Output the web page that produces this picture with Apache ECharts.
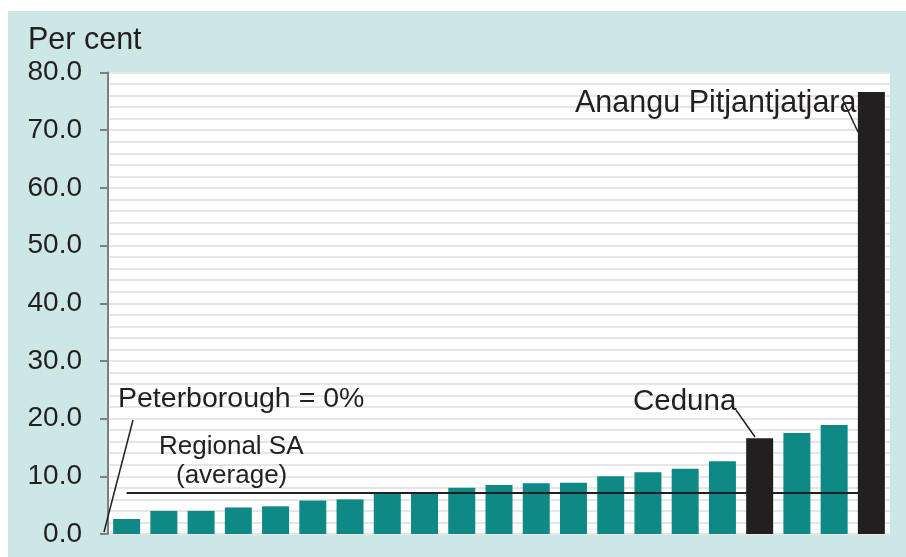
<!DOCTYPE html>
<html>
<head>
<meta charset="utf-8">
<script src="https://cdn.jsdelivr.net/npm/echarts@6/dist/echarts.min.js"></script>
<style>
  html, body { margin: 0; padding: 0; background: #fff; }
  #box { position: absolute; left: 8px; top: 11px; width: 898px; height: 546px; }
</style>
</head>
<body>
<div id="box"></div>
<script>
// regions, sorted from lowest to highest (Peterborough = 0% sits at the origin)
var categories = ['R1', 'R2', 'R3', 'R4', 'R5', 'R6', 'R7', 'R8', 'R9', 'R10',
  'R11', 'R12', 'R13', 'R14', 'R15', 'R16', 'R17', 'Ceduna', 'R19', 'R20', 'Anangu Pitjantjatjara']
var values = [2.6, 4.0, 4.0, 4.6, 4.8, 5.8, 6.0, 7.2, 7.2, 8.0,
  8.5, 8.8, 8.9, 10.0, 10.7, 11.3, 12.6, 16.6, 17.5, 18.9, 76.6]
var highlighted = ['Ceduna', 'Anangu Pitjantjatjara']
var regionalAvg = 7.2
var yTicks = [0, 10, 20, 30, 40, 50, 60, 70, 80]

var font = "'Liberation Sans', Arial, sans-serif"
var teal = '#0f8985'
var dark = '#231f20'

var myChart = echarts.init(document.getElementById('box'))

var barData = values.map(function (v, i) {
  return {
    value: v,
    itemStyle: { color: highlighted.indexOf(categories[i]) >= 0 ? dark : teal }
  }
})

function label(text, x, y, size) {
  return {
    type: 'text', x: x, y: y, z: 100,
    style: { text: text, font: size + 'px ' + font, fill: dark, textAlign: 'left', textVerticalAlign: 'middle' }
  }
}
function leader(x1, y1, x2, y2) {
  return { type: 'line', z: 100, shape: { x1: x1, y1: y1, x2: x2, y2: y2 }, style: { stroke: dark, lineWidth: 1.5 } }
}

var option = {
  backgroundColor: '#cde6e6',
  animation: false,
  grid: {
    left: 100, top: 61.5, right: 16, bottom: 23,
    show: true, backgroundColor: '#ffffff', borderWidth: 0
  },
  xAxis: {
    type: 'category',
    data: categories,
    axisLine: { show: false },
    axisTick: { show: false },
    axisLabel: { show: false }
  },
  yAxis: {
    type: 'value',
    min: yTicks[0],
    max: yTicks[yTicks.length - 1],
    interval: 10,
    axisLine: { show: true, lineStyle: { color: '#7f7f7f', width: 2 } },
    axisTick: { show: true, length: 8, lineStyle: { color: '#7f7f7f', width: 2 } },
    axisLabel: {
      margin: 26, fontSize: 28, color: dark, fontFamily: font,
      formatter: function (v) { return v.toFixed(1) }
    },
    splitLine: { show: true, lineStyle: { color: '#e6e6e6', width: 2 } },
    minorTick: { show: false, splitNumber: 5 },
    minorSplitLine: { show: true, lineStyle: { color: '#e6e6e6', width: 2 } }
  },
  series: [{
    type: 'bar',
    data: barData,
    barWidth: 27,
    markLine: {
      silent: true,
      symbol: 'none',
      label: { show: false },
      lineStyle: { color: dark, width: 2, type: 'solid' },
      data: [[
        { coord: [categories[0], regionalAvg] },
        { coord: [categories[categories.length - 1], regionalAvg] }
      ]]
    }
  }],
  graphic: [
    label('Per cent', 20, 30, 30.5),
    label('Peterborough = 0%', 110, 388.5, 28.5),
    label('Regional SA', 151, 435.7, 26),
    label('(average)', 168, 465, 26),
    label('Ceduna', 625, 390.5, 29.5),
    label('Anangu Pitjantjatjara', 567, 92.3, 30.5),
    leader(125, 409, 96, 521),
    leader(728, 399, 747, 426),
    leader(834, 87, 850, 121)
  ]
}
myChart.setOption(option)
</script>
</body>
</html>
